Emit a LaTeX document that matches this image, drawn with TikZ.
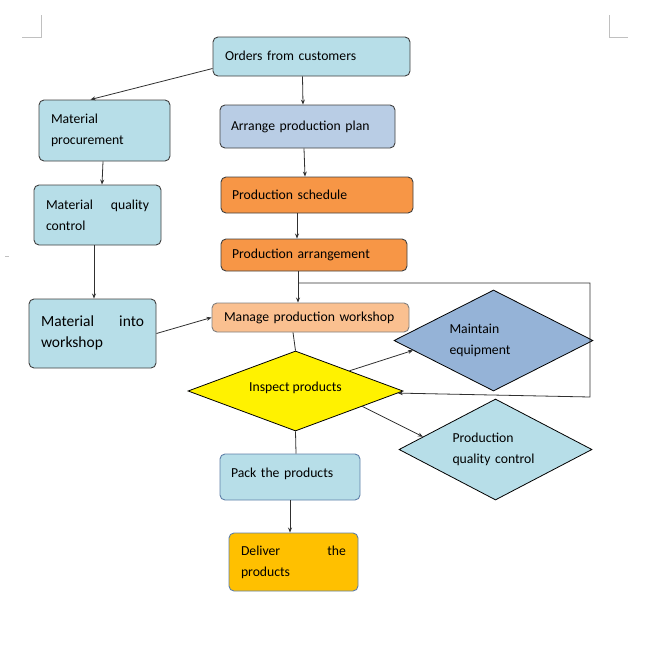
\documentclass[tikz,border=0pt]{standalone}
\usepackage{fontspec}
\setmainfont{Carlito}
\usetikzlibrary{shapes.geometric,arrows.meta,calc}
\definecolor{lblue}{HTML}{B7DEE8}
\definecolor{pblue}{HTML}{B9CDE5}
\definecolor{dorange}{HTML}{F79646}
\definecolor{lorange}{HTML}{FAC090}
\definecolor{mblue}{HTML}{95B3D7}
\definecolor{gold}{HTML}{FFC000}
\definecolor{boxline}{HTML}{404040}
\definecolor{blueline}{HTML}{5F7FA8}
\definecolor{lineclr}{HTML}{303030}
\definecolor{markclr}{HTML}{C0C0C0}
\begin{document}
\begin{tikzpicture}[x=1pt,y=-1pt,
  font=\fontsize{13.7}{21}\selectfont,
  box/.style={draw=boxline, line width=0.9pt, rounded corners=5pt,
    inner xsep=12pt, inner ysep=0pt, align=left},
  dia/.style={diamond, draw=black, line width=0.8pt, inner sep=0pt, aspect=2},
  conn/.style={draw=lineclr, line width=0.8pt},
  arr/.style={conn, -{Stealth[length=5pt,width=4pt]}},
  cornermark/.style={draw=markclr, line width=0.8pt}]
\useasboundingbox (0,0) rectangle (659,664);

% page corner marks
\draw[cornermark] (22,37) -- (41,37) -- (41,15);
\draw[cornermark] (609,15) -- (609,37) -- (628,37);
\draw[cornermark] (5,256) -- (9,256);

% boxes
\node[box, fill=lblue, minimum width=197pt, minimum height=39pt, text width=173pt] (orders) at (311.5,56.5) {\raisebox{2pt}{Orders from customers}};
\node[box, fill=lblue, minimum width=131pt, minimum height=61pt, text width=107pt] (matproc) at (104.5,130.5) {Material\\procurement};
\node[box, fill=pblue, minimum width=175pt, minimum height=43pt, text width=153pt, inner xsep=11pt] (arrange) at (307.5,126.5) {\raisebox{2pt}{Arrange production plan}};
\node[box, fill=dorange, minimum width=192pt, minimum height=36pt, text width=170pt, inner xsep=11pt] (schedule) at (317,195) {Production schedule};
\node[box, fill=lblue, minimum width=127pt, minimum height=60pt, text width=103pt] (matqc) at (97.5,215) {Material\hfill quality\\control};
\node[box, fill=dorange, minimum width=186pt, minimum height=32pt, text width=164pt, inner xsep=11pt] (arrangement) at (314,255) {Production arrangement};
\node[box, fill=lblue, minimum width=127pt, minimum height=69pt, text width=103pt, font=\fontsize{15.5}{21}\selectfont] (matinto) at (92.5,333.5) {\raisebox{4pt}{\hbox to 103pt{Material\hfill into}}\\\raisebox{4pt}{workshop}};
\node[box, fill=lorange, draw=gray, minimum width=197pt, minimum height=29pt, text width=173pt] (manage) at (310.5,317.5) {Manage production workshop};
\node[box, fill=lblue, draw=blueline, minimum width=140pt, minimum height=46pt, text width=118pt, inner xsep=11pt] (pack) at (290,477) {\raisebox{8pt}{Pack the products}};
\node[box, fill=gold, draw=blueline, minimum width=129pt, minimum height=58pt, text width=105pt] (deliver) at (293.5,562) {Deliver\hfill the\\products};

% diamonds
\node[dia, fill=yellow, minimum width=215pt, minimum height=80pt, align=center] (inspect) at (295.5,391) {\raisebox{9pt}{Inspect products}};
\node[dia, fill=mblue, minimum width=199pt, minimum height=101pt, text width=88pt, align=left] (maintain) at (493.5,340.5) {Maintain\\equipment};
\node[dia, fill=lblue, minimum width=193pt, minimum height=101pt, text width=86pt, align=left] (pqc) at (495.5,449.5) {Production\\quality control};

% connectors
\draw[arr] ([yshift=-12pt]orders.west) -- ([xshift=-14pt]matproc.north);
\draw[arr] ([xshift=-9pt]orders.south) -- ([xshift=-4.5pt]arrange.north);
\draw[arr] ([xshift=-3.5pt]arrange.south) -- ([xshift=-12pt]schedule.north);
\draw[arr] ([xshift=-20pt]schedule.south) -- ([xshift=-17pt]arrangement.north);
\draw[arr] ([xshift=-16pt]arrangement.south) -- ([xshift=-12.5pt]manage.north);
\coordinate (loopstart) at (298,283);
\coordinate (loopne) at (590,283);
\coordinate (loopse) at (590,397);
\draw[arr] (loopstart) -- (loopne) -- (loopse) -- (inspect);
\draw[arr] ([xshift=-1.5pt]matproc.south) -- ([xshift=4.5pt]matqc.north);
\draw[arr] ([xshift=-3.5pt]matqc.south) -- ([xshift=1.5pt]matinto.north);
\draw[arr] (matinto.east) -- (manage.west);
\draw[conn] ([xshift=-17.5pt]manage.south) -- (inspect.north);
\draw[arr] (inspect.north east) -- (maintain.187);
\draw[arr] (inspect.-13) -- (pqc.170);
\draw[conn] (inspect.south) -- ([xshift=6pt]pack.north);
\draw[arr] (pack.south) -- (pack.south |- deliver.north);
\end{tikzpicture}
\end{document}
